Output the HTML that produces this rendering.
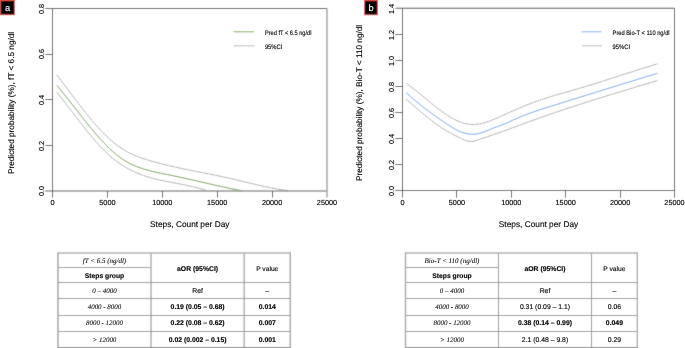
<!DOCTYPE html>
<html><head><meta charset="utf-8"><title>Predicted probability by daily steps</title>
<style>
html,body{margin:0;padding:0;background:#fff;}
body{width:685px;height:348px;overflow:hidden;}
svg{display:block;text-rendering:geometricPrecision;}
path{fill:none;}
text{font-family:'Liberation Sans', Arial, Helvetica, sans-serif;fill:#000;stroke:#000;stroke-width:0.22px;stroke-opacity:0.55;}
text.s{font-family:'Liberation Serif', 'Times New Roman', serif;font-style:italic;stroke-width:0.1px;}
text.w{fill:#fff;stroke:#fff;}
</style></head>
<body>
<svg width="685" height="348" viewBox="0 0 685 348">
<defs><filter id="bl" x="0" y="0" width="1" height="1"><feConvolveMatrix order="3" kernelMatrix="0.02 0.08 0.02 0.08 0.6 0.08 0.02 0.08 0.02" edgeMode="duplicate"/></filter></defs>
<rect width="685" height="348" fill="#fff"/>
<g filter="url(#bl)">
<rect width="685" height="348" fill="#fff"/>
<rect x="0" y="0" width="15" height="15.2" fill="#e8483e"/>
<rect x="1" y="1" width="13" height="13.3" fill="#000"/>
<path d="M45.4,8.5 L327.0,8.5" stroke="#4e4e4e" stroke-width="1.1"/>
<path d="M327.0,8.5 L327.0,197.6" stroke="#b0b0b0" stroke-width="1.7"/>
<path d="M45.4,191.0 L327.0,191.0" stroke="#b0b0b0" stroke-width="1.9"/>
<path d="M52.5,8.5 L52.5,197.6" stroke="#4e4e4e" stroke-width="1.05"/>
<path d="M45.4,145.5 L52.5,145.5" stroke="#4e4e4e" stroke-width="1"/>
<path d="M45.4,99.5 L52.5,99.5" stroke="#4e4e4e" stroke-width="1"/>
<path d="M45.4,54.5 L52.5,54.5" stroke="#4e4e4e" stroke-width="1"/>
<path d="M107.5,191.0 L107.5,197.6" stroke="#4e4e4e" stroke-width="1"/>
<path d="M162.5,191.0 L162.5,197.6" stroke="#4e4e4e" stroke-width="1"/>
<path d="M217.5,191.0 L217.5,197.6" stroke="#4e4e4e" stroke-width="1"/>
<path d="M272.5,191.0 L272.5,197.6" stroke="#4e4e4e" stroke-width="1"/>
<path d="M56.9,74.96L58.4,76.93L59.9,78.91L61.4,80.90L62.9,82.89L64.4,84.89L65.9,86.89L67.4,88.89L68.9,90.88L70.4,92.88L71.9,94.87L73.4,96.86L74.9,98.84L76.4,100.81L77.9,102.77L79.4,104.72L80.9,106.65L82.4,108.58L83.9,110.48L85.4,112.37L86.9,114.24L88.4,116.08L89.9,117.91L91.4,119.71L92.9,121.48L94.4,123.23L95.9,124.95L97.4,126.64L98.9,128.30L100.4,129.93L101.9,131.52L103.4,133.07L104.9,134.59L106.4,136.06L107.9,137.50L109.4,138.89L110.9,140.24L112.4,141.54L113.9,142.80L115.4,144.01L116.9,145.17L118.4,146.27L119.9,147.33L121.4,148.33L122.9,149.29L124.4,150.19L125.9,151.06L127.4,151.88L128.9,152.66L130.4,153.41L131.9,154.12L133.4,154.79L134.9,155.44L136.4,156.05L137.9,156.64L139.4,157.20L140.9,157.74L142.4,158.27L143.9,158.77L145.4,159.26L146.9,159.73L148.4,160.19L149.9,160.64L151.4,161.09L152.9,161.52L154.4,161.95L155.9,162.36L157.4,162.77L158.9,163.18L160.4,163.57L161.9,163.96L163.4,164.33L164.9,164.71L166.4,165.07L167.9,165.43L169.4,165.79L170.9,166.14L172.4,166.48L173.9,166.82L175.4,167.15L176.9,167.48L178.4,167.81L179.9,168.13L181.4,168.44L182.9,168.76L184.4,169.07L185.9,169.37L187.4,169.68L188.9,169.98L190.4,170.28L191.9,170.58L193.4,170.88L194.9,171.17L196.4,171.47L197.9,171.76L199.4,172.06L200.9,172.35L202.4,172.64L203.9,172.94L205.4,173.23L206.9,173.53L208.4,173.83L209.9,174.12L211.4,174.42L212.9,174.73L214.4,175.03L215.9,175.34L217.4,175.65L218.9,175.96L220.4,176.28L221.9,176.60L223.4,176.93L224.9,177.25L226.4,177.59L227.9,177.92L229.4,178.27L230.9,178.61L232.4,178.96L233.9,179.31L235.4,179.66L236.9,180.02L238.4,180.37L239.9,180.73L241.4,181.09L242.9,181.45L244.4,181.81L245.9,182.17L247.4,182.53L248.9,182.88L250.4,183.24L251.9,183.59L253.4,183.94L254.9,184.29L256.4,184.64L257.9,184.98L259.4,185.32L260.9,185.66L262.4,185.99L263.9,186.32L265.4,186.64L266.9,186.96L268.4,187.27L269.9,187.57L271.4,187.87L272.9,188.16L274.4,188.45L275.9,188.72L277.4,188.99L278.9,189.25L280.4,189.50L281.9,189.74L283.4,189.97L284.9,190.20L286.4,190.41L287.5,190.56" stroke="#6e6e6e" stroke-width="0.75" stroke-dasharray="1.7 0.7"/>
<path d="M56.9,92.32L58.4,94.18L59.9,96.06L61.4,97.96L62.9,99.88L64.4,101.80L65.9,103.74L67.4,105.69L68.9,107.64L70.4,109.60L71.9,111.56L73.4,113.52L74.9,115.48L76.4,117.43L77.9,119.38L79.4,121.32L80.9,123.26L82.4,125.18L83.9,127.08L85.4,128.97L86.9,130.84L88.4,132.70L89.9,134.53L91.4,136.33L92.9,138.11L94.4,139.86L95.9,141.59L97.4,143.27L98.9,144.93L100.4,146.55L101.9,148.13L103.4,149.66L104.9,151.16L106.4,152.61L107.9,154.02L109.4,155.37L110.9,156.68L112.4,157.95L113.9,159.17L115.4,160.34L116.9,161.47L118.4,162.56L119.9,163.61L121.4,164.62L122.9,165.58L124.4,166.51L125.9,167.40L127.4,168.26L128.9,169.08L130.4,169.87L131.9,170.62L133.4,171.34L134.9,172.03L136.4,172.69L137.9,173.33L139.4,173.93L140.9,174.51L142.4,175.07L143.9,175.60L145.4,176.10L146.9,176.59L148.4,177.05L149.9,177.50L151.4,177.92L152.9,178.33L154.4,178.72L155.9,179.10L157.4,179.46L158.9,179.81L160.4,180.15L161.9,180.48L163.4,180.79L164.9,181.10L166.4,181.40L167.9,181.70L169.4,181.99L170.9,182.27L172.4,182.55L173.9,182.83L175.4,183.11L176.9,183.39L178.4,183.67L179.9,183.96L181.4,184.25L182.9,184.54L184.4,184.84L185.9,185.14L187.4,185.45L188.9,185.77L190.4,186.11L191.9,186.45L193.4,186.81L194.9,187.17L196.4,187.56L197.9,187.96L199.4,188.38L200.9,188.81L202.4,189.26L203.9,189.74L205.4,190.23L206.9,190.75L207.0,190.79" stroke="#6e6e6e" stroke-width="0.75" stroke-dasharray="1.7 0.7"/>
<path d="M56.9,85.35L58.4,87.16L59.9,88.99L61.4,90.84L62.9,92.70L64.4,94.57L65.9,96.46L67.4,98.36L68.9,100.26L70.4,102.18L71.9,104.09L73.4,106.01L74.9,107.94L76.4,109.86L77.9,111.78L79.4,113.69L80.9,115.60L82.4,117.50L83.9,119.39L85.4,121.27L86.9,123.14L88.4,124.99L89.9,126.83L91.4,128.64L92.9,130.44L94.4,132.22L95.9,133.97L97.4,135.69L98.9,137.39L100.4,139.06L101.9,140.70L103.4,142.31L104.9,143.88L106.4,145.42L107.9,146.92L109.4,148.38L110.9,149.79L112.4,151.17L113.9,152.50L115.4,153.78L116.9,155.01L118.4,156.20L119.9,157.33L121.4,158.41L122.9,159.44L124.4,160.41L125.9,161.32L127.4,162.18L128.9,162.99L130.4,163.76L131.9,164.49L133.4,165.17L134.9,165.81L136.4,166.43L137.9,167.01L139.4,167.56L140.9,168.08L142.4,168.58L143.9,169.06L145.4,169.51L146.9,169.95L148.4,170.37L149.9,170.76L151.4,171.15L152.9,171.52L154.4,171.87L155.9,172.22L157.4,172.55L158.9,172.88L160.4,173.19L161.9,173.50L163.4,173.81L164.9,174.11L166.4,174.41L167.9,174.70L169.4,175.00L170.9,175.30L172.4,175.60L173.9,175.91L175.4,176.22L176.9,176.54L178.4,176.85L179.9,177.17L181.4,177.50L182.9,177.83L184.4,178.15L185.9,178.49L187.4,178.82L188.9,179.16L190.4,179.49L191.9,179.83L193.4,180.18L194.9,180.52L196.4,180.86L197.9,181.21L199.4,181.55L200.9,181.90L202.4,182.24L203.9,182.59L205.4,182.94L206.9,183.28L208.4,183.63L209.9,183.97L211.4,184.31L212.9,184.66L214.4,185.00L215.9,185.34L217.4,185.68L218.9,186.01L220.4,186.35L221.9,186.68L223.4,187.01L224.9,187.34L226.4,187.66L227.9,187.99L229.4,188.31L230.9,188.62L232.4,188.93L233.9,189.24L235.4,189.54L236.9,189.84L238.4,190.14L239.9,190.43L241.4,190.72L241.7,190.77" stroke="#6e9f48" stroke-width="1"/>
<path d="M233.6,31.7 L253.8,31.7" stroke="#a3c48a" stroke-width="1.4"/>
<path d="M234.1,45.8 L254.60000000000002,45.8" stroke="#6e6e6e" stroke-width="0.8" stroke-dasharray="1.2 0.8"/>
<rect x="364" y="0" width="14" height="15.2" fill="#e8483e"/>
<rect x="365" y="1" width="12" height="13.3" fill="#000"/>
<path d="M395.4,8.3 L674.5,8.3" stroke="#4e4e4e" stroke-width="1.1"/>
<path d="M674.5,8.3 L674.5,197.6" stroke="#4e4e4e" stroke-width="1.05"/>
<path d="M395.4,190.5 L674.5,190.5" stroke="#5e5e5e" stroke-width="1.1"/>
<path d="M402.5,8.3 L402.5,197.6" stroke="#4e4e4e" stroke-width="1.05"/>
<path d="M395.4,164.5 L402.5,164.5" stroke="#4e4e4e" stroke-width="1"/>
<path d="M395.4,138.5 L402.5,138.5" stroke="#4e4e4e" stroke-width="1"/>
<path d="M395.4,112.5 L402.5,112.5" stroke="#4e4e4e" stroke-width="1"/>
<path d="M395.4,86.5 L402.5,86.5" stroke="#4e4e4e" stroke-width="1"/>
<path d="M395.4,60.5 L402.5,60.5" stroke="#4e4e4e" stroke-width="1"/>
<path d="M395.4,34.5 L402.5,34.5" stroke="#4e4e4e" stroke-width="1"/>
<path d="M456.5,190.5 L456.5,197.6" stroke="#4e4e4e" stroke-width="1"/>
<path d="M511.5,190.5 L511.5,197.6" stroke="#4e4e4e" stroke-width="1"/>
<path d="M565.5,190.5 L565.5,197.6" stroke="#4e4e4e" stroke-width="1"/>
<path d="M620.5,190.5 L620.5,197.6" stroke="#4e4e4e" stroke-width="1"/>
<path d="M406.1,83.25L407.6,84.31L409.1,85.40L410.6,86.52L412.1,87.65L413.6,88.81L415.1,89.99L416.6,91.19L418.1,92.40L419.6,93.62L421.1,94.84L422.6,96.08L424.1,97.32L425.6,98.56L427.1,99.80L428.6,101.04L430.1,102.27L431.6,103.49L433.1,104.71L434.6,105.91L436.1,107.09L437.6,108.26L439.1,109.41L440.6,110.53L442.1,111.63L443.6,112.71L445.1,113.75L446.6,114.76L448.1,115.73L449.6,116.67L451.1,117.57L452.6,118.43L454.1,119.24L455.6,120.00L457.1,120.72L458.6,121.38L460.1,121.99L461.6,122.53L463.1,123.02L464.6,123.44L466.1,123.79L467.6,124.07L469.1,124.28L470.6,124.43L472.1,124.50L473.6,124.51L475.1,124.45L476.6,124.33L478.1,124.15L479.6,123.90L481.1,123.60L482.6,123.25L484.1,122.85L485.6,122.40L487.1,121.91L488.6,121.39L490.1,120.83L491.6,120.24L493.1,119.63L494.6,119.00L496.1,118.36L497.6,117.70L499.1,117.03L500.6,116.37L502.1,115.70L503.6,115.02L505.1,114.35L506.6,113.69L508.1,113.02L509.6,112.35L511.1,111.69L512.6,111.03L514.1,110.37L515.6,109.71L517.1,109.07L518.6,108.42L520.1,107.78L521.6,107.15L523.1,106.53L524.6,105.91L526.1,105.30L527.6,104.70L529.1,104.11L530.6,103.52L532.1,102.95L533.6,102.39L535.1,101.84L536.6,101.30L538.1,100.77L539.6,100.25L541.1,99.74L542.6,99.24L544.1,98.74L545.6,98.26L547.1,97.78L548.6,97.31L550.1,96.84L551.6,96.38L553.1,95.93L554.6,95.48L556.1,95.03L557.6,94.59L559.1,94.15L560.6,93.72L562.1,93.29L563.6,92.86L565.1,92.43L566.6,92.00L568.1,91.58L569.6,91.15L571.1,90.73L572.6,90.30L574.1,89.87L575.6,89.44L577.1,89.01L578.6,88.58L580.1,88.14L581.6,87.70L583.1,87.26L584.6,86.81L586.1,86.36L587.6,85.91L589.1,85.45L590.6,84.99L592.1,84.53L593.6,84.07L595.1,83.60L596.6,83.14L598.1,82.67L599.6,82.19L601.1,81.72L602.6,81.24L604.1,80.77L605.6,80.29L607.1,79.81L608.6,79.33L610.1,78.85L611.6,78.37L613.1,77.88L614.6,77.40L616.1,76.91L617.6,76.43L619.1,75.94L620.6,75.46L622.1,74.97L623.6,74.49L625.1,74.00L626.6,73.52L628.1,73.03L629.6,72.55L631.1,72.07L632.6,71.59L634.1,71.11L635.6,70.63L637.1,70.15L638.6,69.67L640.1,69.20L641.6,68.72L643.1,68.25L644.6,67.78L646.1,67.31L647.6,66.85L649.1,66.38L650.6,65.92L652.1,65.46L653.6,65.01L655.1,64.56L656.6,64.11L657.5,63.84" stroke="#6e6e6e" stroke-width="0.75" stroke-dasharray="1.7 0.7"/>
<path d="M406.1,99.30L407.6,100.55L409.1,101.81L410.6,103.08L412.1,104.36L413.6,105.63L415.1,106.91L416.6,108.19L418.1,109.47L419.6,110.75L421.1,112.01L422.6,113.27L424.1,114.53L425.6,115.77L427.1,116.99L428.6,118.20L430.1,119.40L431.6,120.58L433.1,121.73L434.6,122.86L436.1,123.97L437.6,125.06L439.1,126.11L440.6,127.14L442.1,128.13L443.6,129.09L445.1,130.01L446.6,130.90L448.1,131.76L449.6,132.59L451.1,133.40L452.6,134.19L454.1,134.95L455.6,135.71L457.1,136.45L458.6,137.18L460.1,137.91L461.6,138.64L463.1,139.36L464.6,140.02L466.1,140.60L467.6,141.06L469.1,141.36L470.6,141.47L472.1,141.39L473.6,141.15L475.1,140.78L476.6,140.33L478.1,139.84L479.6,139.34L481.1,138.84L482.6,138.33L484.1,137.83L485.6,137.32L487.1,136.81L488.6,136.30L490.1,135.79L491.6,135.27L493.1,134.76L494.6,134.24L496.1,133.72L497.6,133.19L499.1,132.66L500.6,132.13L502.1,131.60L503.6,131.06L505.1,130.52L506.6,129.98L508.1,129.43L509.6,128.89L511.1,128.34L512.6,127.79L514.1,127.24L515.6,126.69L517.1,126.14L518.6,125.58L520.1,125.03L521.6,124.48L523.1,123.93L524.6,123.38L526.1,122.83L527.6,122.28L529.1,121.73L530.6,121.18L532.1,120.64L533.6,120.09L535.1,119.55L536.6,119.01L538.1,118.48L539.6,117.95L541.1,117.41L542.6,116.88L544.1,116.36L545.6,115.83L547.1,115.31L548.6,114.79L550.1,114.27L551.6,113.75L553.1,113.24L554.6,112.72L556.1,112.21L557.6,111.70L559.1,111.19L560.6,110.69L562.1,110.18L563.6,109.68L565.1,109.18L566.6,108.68L568.1,108.19L569.6,107.69L571.1,107.20L572.6,106.70L574.1,106.21L575.6,105.72L577.1,105.24L578.6,104.75L580.1,104.26L581.6,103.78L583.1,103.30L584.6,102.82L586.1,102.34L587.6,101.86L589.1,101.39L590.6,100.91L592.1,100.44L593.6,99.96L595.1,99.49L596.6,99.02L598.1,98.55L599.6,98.08L601.1,97.61L602.6,97.15L604.1,96.68L605.6,96.22L607.1,95.76L608.6,95.29L610.1,94.83L611.6,94.37L613.1,93.91L614.6,93.45L616.1,92.99L617.6,92.54L619.1,92.08L620.6,91.62L622.1,91.17L623.6,90.71L625.1,90.26L626.6,89.80L628.1,89.35L629.6,88.90L631.1,88.45L632.6,88.00L634.1,87.54L635.6,87.09L637.1,86.64L638.6,86.19L640.1,85.74L641.6,85.30L643.1,84.85L644.6,84.40L646.1,83.95L647.6,83.50L649.1,83.05L650.6,82.61L652.1,82.16L653.6,81.71L655.1,81.26L656.6,80.81L657.5,80.55" stroke="#6e6e6e" stroke-width="0.75" stroke-dasharray="1.7 0.7"/>
<path d="M406.1,92.48L407.6,93.88L409.1,95.26L410.6,96.61L412.1,97.94L413.6,99.24L415.1,100.52L416.6,101.78L418.1,103.01L419.6,104.23L421.1,105.43L422.6,106.61L424.1,107.77L425.6,108.92L427.1,110.05L428.6,111.17L430.1,112.27L431.6,113.37L433.1,114.45L434.6,115.52L436.1,116.58L437.6,117.63L439.1,118.67L440.6,119.71L442.1,120.74L443.6,121.76L445.1,122.79L446.6,123.80L448.1,124.80L449.6,125.78L451.1,126.74L452.6,127.66L454.1,128.55L455.6,129.39L457.1,130.18L458.6,130.91L460.1,131.58L461.6,132.18L463.1,132.70L464.6,133.15L466.1,133.52L467.6,133.82L469.1,134.03L470.6,134.16L472.1,134.22L473.6,134.19L475.1,134.08L476.6,133.90L478.1,133.62L479.6,133.27L481.1,132.85L482.6,132.36L484.1,131.82L485.6,131.24L487.1,130.64L488.6,130.02L490.1,129.39L491.6,128.77L493.1,128.17L494.6,127.59L496.1,127.06L497.6,126.55L499.1,126.04L500.6,125.50L502.1,124.93L503.6,124.34L505.1,123.71L506.6,123.06L508.1,122.40L509.6,121.72L511.1,121.04L512.6,120.35L514.1,119.67L515.6,118.99L517.1,118.33L518.6,117.68L520.1,117.04L521.6,116.42L523.1,115.82L524.6,115.22L526.1,114.64L527.6,114.07L529.1,113.51L530.6,112.97L532.1,112.43L533.6,111.90L535.1,111.38L536.6,110.87L538.1,110.36L539.6,109.86L541.1,109.37L542.6,108.88L544.1,108.40L545.6,107.92L547.1,107.45L548.6,106.98L550.1,106.51L551.6,106.04L553.1,105.58L554.6,105.11L556.1,104.65L557.6,104.18L559.1,103.72L560.6,103.25L562.1,102.78L563.6,102.32L565.1,101.85L566.6,101.38L568.1,100.92L569.6,100.45L571.1,99.98L572.6,99.52L574.1,99.05L575.6,98.58L577.1,98.11L578.6,97.65L580.1,97.18L581.6,96.71L583.1,96.25L584.6,95.78L586.1,95.31L587.6,94.84L589.1,94.38L590.6,93.91L592.1,93.44L593.6,92.97L595.1,92.51L596.6,92.04L598.1,91.57L599.6,91.11L601.1,90.64L602.6,90.17L604.1,89.71L605.6,89.24L607.1,88.77L608.6,88.31L610.1,87.84L611.6,87.38L613.1,86.91L614.6,86.45L616.1,85.98L617.6,85.52L619.1,85.05L620.6,84.59L622.1,84.13L623.6,83.67L625.1,83.20L626.6,82.74L628.1,82.28L629.6,81.82L631.1,81.36L632.6,80.90L634.1,80.43L635.6,79.98L637.1,79.52L638.6,79.06L640.1,78.60L641.6,78.14L643.1,77.68L644.6,77.23L646.1,76.77L647.6,76.31L649.1,75.86L650.6,75.40L652.1,74.95L653.6,74.50L655.1,74.04L656.6,73.59L657.5,73.32" stroke="#6fa3ec" stroke-width="1"/>
<path d="M581.8,31.7 L601.6,31.7" stroke="#a8c8f2" stroke-width="1.4"/>
<path d="M582.3,45.8 L602.4,45.8" stroke="#6e6e6e" stroke-width="0.8" stroke-dasharray="1.2 0.8"/>
<path d="M57.25,253.0 L291.0,253.0" stroke="#c4c4c4" stroke-width="2"/>
<path d="M57.95,253.0 L57.95,348" stroke="#a4a4a4" stroke-width="1.5"/>
<path d="M151.0,253.0 L151.0,348" stroke="#b8b8b8" stroke-width="1.7"/>
<path d="M244.2,253.0 L244.2,348" stroke="#b0b0b0" stroke-width="1.5"/>
<path d="M290.3,253.0 L290.3,348" stroke="#a4a4a4" stroke-width="1.4"/>
<path d="M57.95,267.5 L151.0,267.5" stroke="#9a9a9a" stroke-width="1"/>
<path d="M57.95,282.5 L290.3,282.5" stroke="#999" stroke-width="1"/>
<path d="M57.95,298.5 L290.3,298.5" stroke="#999" stroke-width="1"/>
<path d="M57.95,315.5 L290.3,315.5" stroke="#999" stroke-width="1"/>
<path d="M57.95,331.5 L290.3,331.5" stroke="#999" stroke-width="1"/>
<path d="M57.95,347.5 L290.3,347.5" stroke="#909090" stroke-width="1"/>
<path d="M404.8,253.0 L638.0,253.0" stroke="#c4c4c4" stroke-width="2"/>
<path d="M405.5,253.0 L405.5,348" stroke="#a0a0a0" stroke-width="1.3"/>
<path d="M498.5,253.0 L498.5,348" stroke="#a0a0a0" stroke-width="1.1"/>
<path d="M591.5,253.0 L591.5,348" stroke="#a0a0a0" stroke-width="1.1"/>
<path d="M637.3,253.0 L637.3,348" stroke="#a0a0a0" stroke-width="1.2"/>
<path d="M405.5,267.5 L498.5,267.5" stroke="#9a9a9a" stroke-width="1"/>
<path d="M405.5,282.5 L637.3,282.5" stroke="#999" stroke-width="1"/>
<path d="M405.5,298.5 L637.3,298.5" stroke="#999" stroke-width="1"/>
<path d="M405.5,315.5 L637.3,315.5" stroke="#999" stroke-width="1"/>
<path d="M405.5,331.5 L637.3,331.5" stroke="#999" stroke-width="1"/>
<path d="M405.5,347.5 L637.3,347.5" stroke="#909090" stroke-width="1"/>
</g>
<text class="w" x="7.50" y="10.9" font-size="9.3" text-anchor="middle">a</text>
<text transform="translate(43.9,196) rotate(-90)" font-size="7.3" fill="#111">0.0</text>
<text transform="translate(43.9,151) rotate(-90)" font-size="7.3" fill="#111">0.2</text>
<text transform="translate(43.9,105) rotate(-90)" font-size="7.3" fill="#111">0.4</text>
<text transform="translate(43.9,59) rotate(-90)" font-size="7.3" fill="#111">0.6</text>
<text transform="translate(43.9,14) rotate(-90)" font-size="7.3" fill="#111">0.8</text>
<text x="52.50" y="204.6" font-size="7.3" text-anchor="middle" fill="#111">0</text>
<text x="107.40" y="204.6" font-size="7.3" text-anchor="middle" fill="#111">5000</text>
<text x="162.30" y="204.6" font-size="7.3" text-anchor="middle" fill="#111">10000</text>
<text x="217.20" y="204.6" font-size="7.3" text-anchor="middle" fill="#111">15000</text>
<text x="272.10" y="204.6" font-size="7.3" text-anchor="middle" fill="#111">20000</text>
<text x="327.00" y="204.6" font-size="7.3" text-anchor="middle" fill="#111">25000</text>
<text x="189.75" y="227.4" font-size="8.3" text-anchor="middle" fill="#000">Steps, Count per Day</text>
<text transform="translate(13.7,174) rotate(-90)" font-size="8.23" fill="#000">Predicted probability (%), fT &lt; 6.5 ng/dl</text>
<text x="264.9" y="34.7" font-size="6.5" textLength="46.6" lengthAdjust="spacingAndGlyphs">Pred fT &lt; 6.5 ng/dl</text>
<text x="264.9" y="48.8" font-size="6.5" textLength="17.4" lengthAdjust="spacingAndGlyphs">95%CI</text>
<text class="w" x="371.00" y="10.9" font-size="9.3" text-anchor="middle">b</text>
<text transform="translate(393.6,196) rotate(-90)" font-size="7.3" fill="#111">0.0</text>
<text transform="translate(393.6,170) rotate(-90)" font-size="7.3" fill="#111">0.2</text>
<text transform="translate(393.6,144) rotate(-90)" font-size="7.3" fill="#111">0.4</text>
<text transform="translate(393.6,118) rotate(-90)" font-size="7.3" fill="#111">0.6</text>
<text transform="translate(393.6,92) rotate(-90)" font-size="7.3" fill="#111">0.8</text>
<text transform="translate(393.6,66) rotate(-90)" font-size="7.3" fill="#111">1.0</text>
<text transform="translate(393.6,40) rotate(-90)" font-size="7.3" fill="#111">1.2</text>
<text transform="translate(393.6,14) rotate(-90)" font-size="7.3" fill="#111">1.4</text>
<text x="402.50" y="204.6" font-size="7.3" text-anchor="middle" fill="#111">0</text>
<text x="456.90" y="204.6" font-size="7.3" text-anchor="middle" fill="#111">5000</text>
<text x="511.30" y="204.6" font-size="7.3" text-anchor="middle" fill="#111">10000</text>
<text x="565.70" y="204.6" font-size="7.3" text-anchor="middle" fill="#111">15000</text>
<text x="620.10" y="204.6" font-size="7.3" text-anchor="middle" fill="#111">20000</text>
<text x="674.50" y="204.6" font-size="7.3" text-anchor="middle" fill="#111">25000</text>
<text x="538.50" y="227.4" font-size="8.3" text-anchor="middle" fill="#000">Steps, Count per Day</text>
<text transform="translate(361.6,181) rotate(-90)" font-size="8.23" fill="#000">Predicted probability (%), Bio-T &lt; 110 ng/dl</text>
<text x="612.6" y="34.7" font-size="6.5" textLength="57.0" lengthAdjust="spacingAndGlyphs">Pred Bio-T &lt; 110 ng/dl</text>
<text x="612.6" y="48.8" font-size="6.5" textLength="17.4" lengthAdjust="spacingAndGlyphs">95%CI</text>
<text class="s" x="104.47" y="262.6" font-size="7.0" text-anchor="middle">fT &lt; 6.5 (ng/dl)</text>
<text x="104.47" y="277.9" font-size="6.75" text-anchor="middle" font-weight="bold">Steps group</text>
<text x="197.60" y="270.6" font-size="6.85" text-anchor="middle" font-weight="bold">aOR (95%CI)</text>
<text x="267.25" y="270.6" font-size="6.7" text-anchor="middle">P value</text>
<text class="s" x="104.47" y="292.6" font-size="6.95" text-anchor="middle">0 – 4000</text>
<text x="197.60" y="292.6" font-size="6.85" text-anchor="middle">Ref</text>
<text x="267.25" y="292.6" font-size="6.85" text-anchor="middle">–</text>
<text class="s" x="104.47" y="308.8" font-size="6.95" text-anchor="middle">4000 - 8000</text>
<text x="197.60" y="308.8" font-size="6.85" text-anchor="middle" font-weight="bold">0.19 (0.05 – 0.68)</text>
<text x="267.25" y="308.8" font-size="6.85" text-anchor="middle" font-weight="bold">0.014</text>
<text class="s" x="104.47" y="325.2" font-size="6.95" text-anchor="middle">8000 - 12000</text>
<text x="197.60" y="325.2" font-size="6.85" text-anchor="middle" font-weight="bold">0.22 (0.08 – 0.62)</text>
<text x="267.25" y="325.2" font-size="6.85" text-anchor="middle" font-weight="bold">0.007</text>
<text class="s" x="104.47" y="341.6" font-size="6.95" text-anchor="middle">&gt; 12000</text>
<text x="197.60" y="341.6" font-size="6.85" text-anchor="middle" font-weight="bold">0.02 (0.002 – 0.15)</text>
<text x="267.25" y="341.6" font-size="6.85" text-anchor="middle" font-weight="bold">0.001</text>
<text class="s" x="452.00" y="262.6" font-size="7.0" text-anchor="middle">Bio-T &lt; 110 (ng/dl)</text>
<text x="452.00" y="277.9" font-size="6.75" text-anchor="middle" font-weight="bold">Steps group</text>
<text x="545.00" y="270.6" font-size="6.85" text-anchor="middle" font-weight="bold">aOR (95%CI)</text>
<text x="614.40" y="270.6" font-size="6.7" text-anchor="middle">P value</text>
<text class="s" x="452.00" y="292.6" font-size="6.95" text-anchor="middle">0 – 4000</text>
<text x="545.00" y="292.6" font-size="6.85" text-anchor="middle">Ref</text>
<text x="614.40" y="292.6" font-size="6.85" text-anchor="middle">–</text>
<text class="s" x="452.00" y="308.8" font-size="6.95" text-anchor="middle">4000 - 8000</text>
<text x="545.00" y="308.8" font-size="6.85" text-anchor="middle">0.31 (0.09 – 1.1)</text>
<text x="614.40" y="308.8" font-size="6.85" text-anchor="middle">0.06</text>
<text class="s" x="452.00" y="325.2" font-size="6.95" text-anchor="middle">8000 - 12000</text>
<text x="545.00" y="325.2" font-size="6.85" text-anchor="middle" font-weight="bold">0.38 (0.14 – 0.99)</text>
<text x="614.40" y="325.2" font-size="6.85" text-anchor="middle" font-weight="bold">0.049</text>
<text class="s" x="452.00" y="341.6" font-size="6.95" text-anchor="middle">&gt; 12000</text>
<text x="545.00" y="341.6" font-size="6.85" text-anchor="middle">2.1 (0.48 – 9.8)</text>
<text x="614.40" y="341.6" font-size="6.85" text-anchor="middle">0.29</text>
</svg>
</body></html>
